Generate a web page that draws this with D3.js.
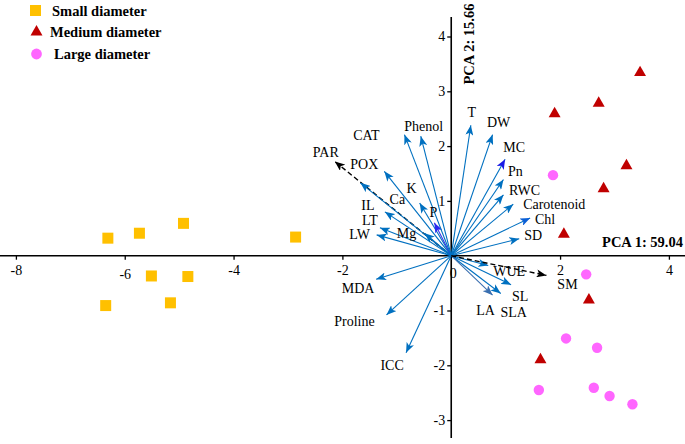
<!DOCTYPE html>
<html><head><meta charset="utf-8">
<script src="https://cdn.jsdelivr.net/npm/d3@7"></script>
<style>
body{margin:0;background:#fff;}
svg{display:block;font-family:"Liberation Serif","Times New Roman",serif;}
</style></head>
<body>
<svg id="chart" width="685" height="444"></svg>
<script>
// ---------- data ----------
const seriesNames = ["Small diameter", "Medium diameter", "Large diameter"];
const smallPts = [[-6.31,0.32],[-5.73,0.41],[-4.92,0.59],[-2.86,0.34],[-5.51,-0.37],[-4.84,-0.38],[-6.35,-0.91],[-5.16,-0.86]];
const mediumPts = [[1.90,2.61],[2.71,2.80],[3.47,3.36],[2.80,1.24],[2.07,0.41],[3.22,1.66],[2.53,-0.79],[1.64,-1.88]];
const largePts = [[1.87,1.47],[2.48,-0.34],[2.11,-1.51],[2.68,-1.68],[1.61,-2.45],[2.62,-2.41],[2.91,-2.56],[3.33,-2.71]];
const loadingNames = ["PAR","POX","Ca","IL","LT","LW","K","Mg","P","CAT","Phenol","T","DW","MC","Pn","RWC","Carotenoid","Chl","SD","MDA","Proline","ICC","WUE","SL","SLA","LA","SM"];
const loadingX = [-2.14,-1.23,-1.67,-1.22,-1.31,-1.37,-0.58,-0.49,-0.31,-0.86,-0.56,0.36,0.76,0.99,0.96,0.96,1.14,1.45,1.25,-1.38,-1.19,-0.83,0.68,1.10,0.91,0.76,1.75];
const loadingY = [1.72,1.54,1.33,0.80,0.51,0.38,0.96,0.41,0.60,2.21,2.18,2.38,2.21,1.76,1.39,1.11,0.94,0.69,0.31,-0.43,-1.08,-1.77,-0.18,-0.53,-0.69,-0.72,-0.36];
const dashedLoadings = ["PAR","SM"];
const xTicks = [-8,-6,-4,-2,2,4];
const yTicks = [-3,-2,-1,1,2,3,4];
const xTitle = "PCA 1: 59.04";
const yTitle = "PCA 2: 15.66";

// ---------- layout / style ----------
const labelOffset = {PAR:[-9,-9],POX:[-20,-7],Ca:[37,17],IL:[-17,-6],LT:[-10,-7],LW:[-17,0],K:[-8,-15],Mg:[-18,0],P:[-1,-10],
  CAT:[-38,1],Phenol:[3,-10],T:[1,-13],DW:[6,-12],MC:[9,-12],Pn:[12,-8],RWC:[21,-4.5],Carotenoid:[41,0],Chl:[15,1.5],SD:[14,-3],
  MDA:[-18,9],Proline:[-32,7],ICC:[-14,13],WUE:[21,6],SL:[9,12],SLA:[13,19],LA:[-7,15],SM:[21,9]};
const headColor = {MC:"#1a1ae6",P:"#2a2af0",Chl:"#0a5fd6",LA:"#3a6fb0"};
const lineColor = {P:"#3535e8",LA:"#3a6fb0"};
const W = 685, H = 444;
const x = d3.scaleLinear().domain([-8,4]).range([15.9, 668.9]);
const y = d3.scaleLinear().domain([-3,4]).range([420.1, 36.5]);
const fmt = d => String(d);

const svg = d3.select("#chart");
const defs = svg.append("defs");
function marker(id, color){
  defs.append("marker").attr("id",id).attr("viewBox","0 0 10 8").attr("refX",10).attr("refY",4)
    .attr("markerWidth",10).attr("markerHeight",8).attr("markerUnits","userSpaceOnUse").attr("orient","auto")
    .append("path").attr("d","M0,0 L10,4 L0,8 L2.5,4 Z").attr("fill",color);
}
marker("m-blue","#0070C0");
marker("m-black","#000");
Object.entries(headColor).forEach(([k,c])=>marker("m-"+k,c));

// axes
const xAxisG = svg.append("g").attr("transform",`translate(0,${y(0)})`)
  .call(d3.axisBottom(x).tickValues(xTicks).tickSize(4).tickFormat(fmt));
xAxisG.select(".domain").remove();
xAxisG.attr("font-family",null).attr("font-size",null);
xAxisG.selectAll(".tick line").attr("stroke","#000").attr("stroke-width",1.3);
xAxisG.selectAll(".tick text").attr("font-size",14).attr("fill","#000")
  .attr("y",9).attr("dy",(d)=> d===-6?"1.05em":"0.71em");
svg.append("line").attr("x1",0).attr("x2",W).attr("y1",y(0)).attr("y2",y(0)).attr("stroke","#000").attr("stroke-width",1.6);

const yAxisG = svg.append("g").attr("transform",`translate(${x(0)},0)`)
  .call(d3.axisLeft(y).tickValues(yTicks).tickSize(4).tickFormat(fmt));
yAxisG.select(".domain").remove();
yAxisG.attr("font-family",null).attr("font-size",null);
yAxisG.selectAll(".tick line").attr("stroke","#000").attr("stroke-width",1.3);
yAxisG.selectAll(".tick text").attr("font-size",14).attr("fill","#000").attr("x",-6);
svg.append("line").attr("x1",x(0)).attr("x2",x(0)).attr("y1",17).attr("y2",438).attr("stroke","#000").attr("stroke-width",1.6);
svg.append("text").attr("x",x(0)+2).attr("y",y(0)+22).attr("text-anchor","middle").attr("font-size",14).text("0");

// titles
svg.append("text").attr("x",683).attr("y",y(0)-9).attr("text-anchor","end").attr("font-size",14.5).attr("font-weight","bold").text(xTitle);
svg.append("text").attr("transform",`translate(${x(0)+23},44) rotate(-90)`).attr("text-anchor","middle")
  .attr("font-size",14.5).attr("font-weight","bold").text(yTitle);

// loadings
const loadings = loadingNames.map((n,i)=>({name:n, lx:loadingX[i], ly:loadingY[i]}));
const lg = svg.append("g");
lg.selectAll("line").data(loadings).join("line")
  .attr("x1",x(0)).attr("y1",y(0))
  .attr("x2",d=>x(d.lx)).attr("y2",d=>y(d.ly))
  .attr("stroke",d=> dashedLoadings.includes(d.name)?"#000":(lineColor[d.name]||"#0070C0"))
  .attr("stroke-width",d=> dashedLoadings.includes(d.name)?1.4:1.1)
  .attr("stroke-dasharray",d=> dashedLoadings.includes(d.name)?"5,3":null)
  .attr("marker-end",d=> dashedLoadings.includes(d.name)?"url(#m-black)":(headColor[d.name]?`url(#m-${d.name})`:"url(#m-blue)"));
lg.selectAll("text").data(loadings).join("text")
  .attr("x",d=>x(d.lx)+labelOffset[d.name][0]).attr("y",d=>y(d.ly)+labelOffset[d.name][1])
  .attr("text-anchor","middle").attr("dominant-baseline","central").attr("font-size",14).attr("fill","#000")
  .text(d=>d.name);

// points
const pg = svg.append("g");
pg.selectAll("rect").data(smallPts).join("rect")
  .attr("x",d=>x(d[0])-5.5).attr("y",d=>y(d[1])-5.5).attr("width",11).attr("height",11).attr("fill","#FFC000");
const tri = d3.symbol().type(d3.symbolTriangle).size(62);
pg.selectAll("path.tri").data(mediumPts).join("path").attr("class","tri")
  .attr("transform",d=>`translate(${x(d[0])},${y(d[1])+1})`).attr("d",tri).attr("fill","#C00000");
pg.selectAll("circle").data(largePts).join("circle")
  .attr("cx",d=>x(d[0])).attr("cy",d=>y(d[1])).attr("r",5.2).attr("fill","#FF66FF");

// legend
const leg = svg.append("g");
leg.append("rect").attr("x",30).attr("y",5).attr("width",11).attr("height",11).attr("fill","#FFC000");
leg.append("path").attr("transform","translate(36.5,32)").attr("d",tri).attr("fill","#C00000");
leg.append("circle").attr("cx",36.5).attr("cy",54).attr("r",5.4).attr("fill","#FF66FF");
const legX = [52,50,54], legY = [11,32,54];
seriesNames.forEach((s,i)=>{
  leg.append("text").attr("x",legX[i]).attr("y",legY[i]).attr("dominant-baseline","central")
    .attr("font-size",14.5).attr("font-weight","bold").text(s);
});
</script>
</body></html>
